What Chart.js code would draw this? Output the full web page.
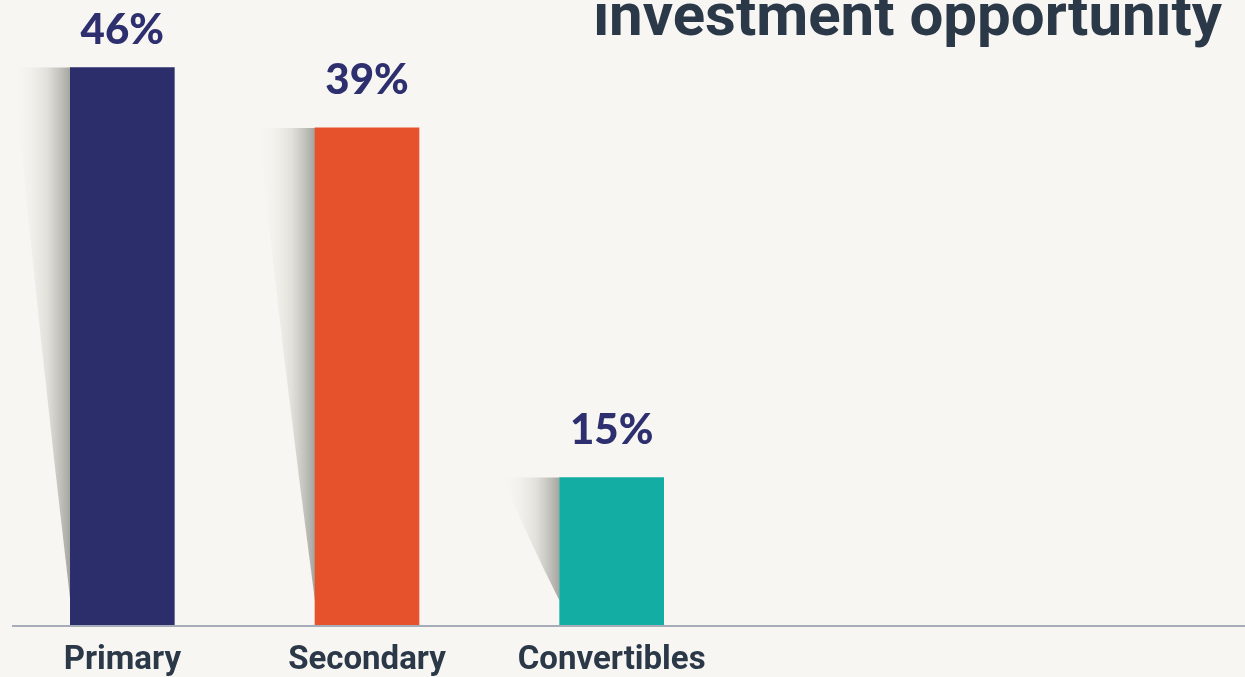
<!DOCTYPE html>
<html>
<head>
<meta charset="utf-8">
<script src="https://cdn.jsdelivr.net/npm/chart.js@4"></script>
<style>
  html, body { margin: 0; padding: 0; background: #f7f6f2; }
  #wrap { width: 1245px; height: 677px; position: relative; }
</style>
</head>
<body>
<div id="wrap"><canvas id="chart"></canvas></div>
<script>
  const categories = ['Primary', 'Secondary', 'Convertibles'];
  const shares = [46, 39, 15];
  const barColors = ['#2c2e6b', '#e6522c', '#13ada3'];
  const titleText = 'investment opportunity';

  // soft wedge shadow to the left of every bar
  const barShadow = {
    id: 'barShadow',
    beforeDatasetsDraw(chart) {
      const ctx = chart.ctx;
      const meta = chart.getDatasetMeta(0);
      ctx.save();
      meta.data.forEach((bar) => {
        const left = bar.x - bar.width / 2;
        const top = bar.y;
        const tipY = bar.base - 25;
        const spread = 57;
        const grad = ctx.createLinearGradient(left - spread, 0, left, 0);
        grad.addColorStop(0, 'rgba(247,246,242,0)');
        grad.addColorStop(0.6, 'rgba(220,219,213,0.85)');
        grad.addColorStop(1, 'rgba(165,165,160,1)');
        ctx.fillStyle = grad;
        ctx.beginPath();
        ctx.moveTo(left, top);
        ctx.lineTo(left - spread, top);
        ctx.quadraticCurveTo(left - spread * 0.55, (top + tipY) / 2, left, tipY);
        ctx.closePath();
        ctx.fill();
      });
      ctx.restore();
    }
  };

  const extras = {
    id: 'extras',
    afterDatasetsDraw(chart) {
      const ctx = chart.ctx;
      const area = chart.chartArea;
      ctx.save();
      // base line
      ctx.strokeStyle = '#a6adb9';
      ctx.lineWidth = 2;
      ctx.beginPath();
      ctx.moveTo(12, area.bottom);
      ctx.lineTo(chart.width, area.bottom);
      ctx.stroke();
      // value labels
      ctx.fillStyle = '#2d2f6e';
      ctx.font = '900 42px Lato';
      ctx.textAlign = 'center';
      ctx.textBaseline = 'alphabetic';
      chart.getDatasetMeta(0).data.forEach((bar, i) => {
        ctx.fillText(shares[i] + '%', bar.x, Math.max(bar.y - 34, 44));
      });
      // title, cut off at the top edge
      ctx.fillStyle = '#2b3848';
      ctx.font = 'bold 60px Roboto';
      ctx.textAlign = 'right';
      ctx.fillText(titleText, 1222, 35);
      ctx.restore();
    }
  };

  new Chart(document.getElementById('chart'), {
    type: 'bar',
    data: {
      labels: categories,
      datasets: [{
        data: shares,
        backgroundColor: barColors,
        barThickness: 104,
        borderWidth: 0
      }]
    },
    options: {
      responsive: true,
      maintainAspectRatio: false,
      animation: false,
      layout: { padding: { top: 37, left: 0, right: 511, bottom: 0 } },
      plugins: { legend: { display: false }, tooltip: { enabled: false } },
      scales: {
        x: {
          grid: { display: false },
          border: { display: false },
          afterFit(scale) { scale.height = 51; },
          ticks: {
            color: '#2b3848',
            padding: 7,
            font: { family: 'Roboto', size: 33, weight: 'bold' }
          }
        },
        y: {
          type: 'logarithmic',
          min: 10,
          max: 50,
          display: false
        }
      }
    },
    plugins: [barShadow, extras]
  });
</script>
</body>
</html>
